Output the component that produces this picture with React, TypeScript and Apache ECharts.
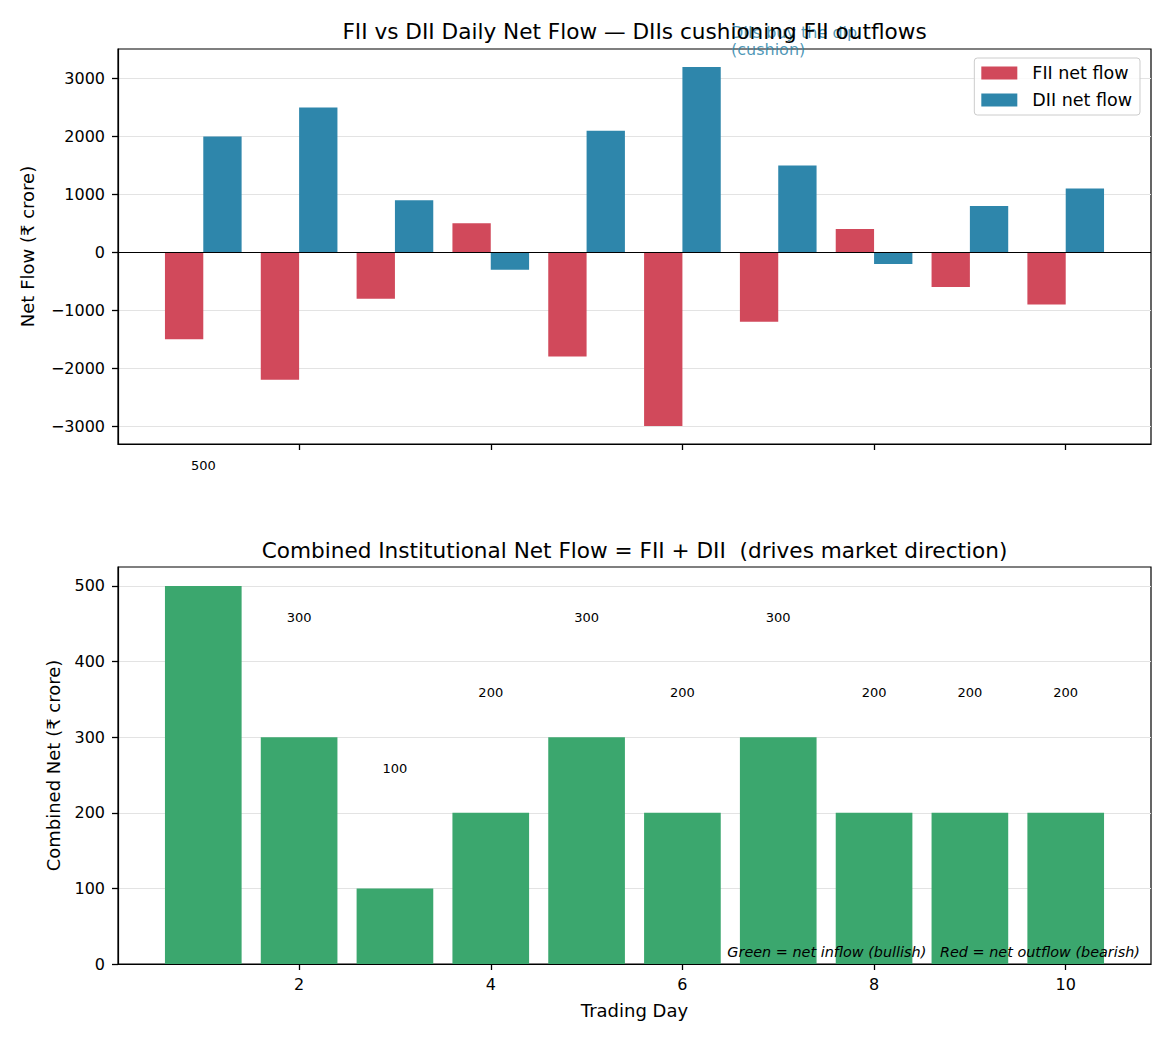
import React, { useEffect, useRef } from "react";
import * as echarts from "echarts";

const days = [1, 2, 3, 4, 5, 6, 7, 8, 9, 10];
const fiiFlow = [-1500, -2200, -800, 500, -1800, -3000, -1200, 400, -600, -900];
const diiFlow = [2000, 2500, 900, -300, 2100, 3200, 1500, -200, 800, 1100];
const combinedFlow = [500, 300, 100, 200, 300, 200, 300, 200, 200, 200];
const xTicks = [2, 4, 6, 8, 10];
const topYTicks = [-3000, -2000, -1000, 0, 1000, 2000, 3000];
const bottomYTicks = [0, 100, 200, 300, 400, 500];

const RED = "#D1495B";
const BLUE = "#2E86AB";
const GREEN = "#3BA76E";
const FONT = "DejaVu Sans";

const fmt = (v: number) => String(v).replace("-", "\u2212");

function barRenderer(offset: number, width: number, colorFn: (v: number) => string) {
  return (params: any, api: any) => {
    const x = api.value(0);
    const y = api.value(1);
    const p0 = api.coord([x + offset - width / 2, y]);
    const p1 = api.coord([x + offset + width / 2, 0]);
    return {
      type: "rect",
      shape: {
        x: p0[0],
        y: Math.min(p0[1], p1[1]),
        width: p1[0] - p0[0],
        height: Math.abs(p1[1] - p0[1]),
      },
      style: { fill: colorFn(y) },
    };
  };
}

export default function App() {
  const ref = useRef<HTMLDivElement>(null);
  useEffect(() => {
    document.body.style.margin = "0";
    if (!ref.current) return;
    const chart = echarts.init(ref.current, null, { renderer: "svg" });

    const commonX = {
      type: "value",
      min: 0.11,
      max: 10.89,
      axisLine: { show: true, onZero: false, lineStyle: { color: "#000", width: 1.2 } },
      axisTick: { show: true, length: 6, lineStyle: { color: "#000", width: 1.3 }, customValues: xTicks },
      splitLine: { show: false },
    };

    const option: any = {
      animation: false,
      textStyle: { fontFamily: FONT },
      grid: [
        { left: 118, width: 1033, top: 49, height: 395, show: true, borderColor: "#000", borderWidth: 1.2, backgroundColor: "transparent" },
        { left: 118, width: 1033, top: 567, height: 397, show: true, borderColor: "#000", borderWidth: 1.2, backgroundColor: "transparent" },
      ],
      xAxis: [
        { ...commonX, gridIndex: 0, axisLabel: { show: false, customValues: xTicks } },
        {
          ...commonX,
          gridIndex: 1,
          axisLabel: { show: true, customValues: xTicks, color: "#000", fontSize: 16, fontFamily: FONT, margin: 12 },
          name: "Trading Day",
          nameLocation: "middle",
          nameGap: 37,
          nameTextStyle: { color: "#000", fontSize: 18, fontFamily: FONT },
        },
      ],
      yAxis: [
        {
          type: "value",
          gridIndex: 0,
          min: -3310,
          max: 3510,
          axisLine: { show: true, onZero: false, lineStyle: { color: "#000", width: 1.2 } },
          axisTick: { show: true, length: 6, lineStyle: { color: "#000", width: 1.3 }, customValues: topYTicks },
          axisLabel: { customValues: topYTicks, formatter: fmt, color: "#000", fontSize: 16, fontFamily: FONT, margin: 13 },
          splitLine: { show: true, lineStyle: { color: "#e3e3e3", width: 1 } },
          name: "Net Flow (\u20b9 crore)",
          nameLocation: "middle",
          nameGap: 82,
          nameTextStyle: { color: "#000", fontSize: 18, fontFamily: FONT },
        },
        {
          type: "value",
          gridIndex: 1,
          min: 0,
          max: 525,
          axisLine: { show: true, onZero: false, lineStyle: { color: "#000", width: 1.2 } },
          axisTick: { show: true, length: 6, lineStyle: { color: "#000", width: 1.3 }, customValues: bottomYTicks },
          axisLabel: { customValues: bottomYTicks, formatter: fmt, color: "#000", fontSize: 16, fontFamily: FONT, margin: 13 },
          splitLine: { show: true, lineStyle: { color: "#e3e3e3", width: 1 } },
          name: "Combined Net (\u20b9 crore)",
          nameLocation: "middle",
          nameGap: 56,
          nameTextStyle: { color: "#000", fontSize: 18, fontFamily: FONT },
        },
      ],
      legend: {
        data: ["FII net flow", "DII net flow"],
        orient: "vertical",
        right: 30,
        top: 58,
        padding: [6, 8, 6, 7],
        backgroundColor: "rgba(255,255,255,0.8)",
        borderColor: "#cccccc",
        borderWidth: 1,
        borderRadius: 3,
        itemWidth: 36,
        itemHeight: 13,
        itemGap: 9,
        icon: "rect",
        textStyle: { color: "#000", fontSize: 17.5, fontFamily: FONT, padding: [0, 0, 0, 10] },
      },
      series: [
        {
          name: "FII net flow",
          type: "custom",
          xAxisIndex: 0,
          yAxisIndex: 0,
          itemStyle: { color: RED },
          encode: { x: 0, y: 1 },
          data: days.map((d, i) => [d, fiiFlow[i]]),
          renderItem: barRenderer(-0.2, 0.4, () => RED),
          markLine: {
            silent: true,
            symbol: ["none", "none"],
            label: { show: false },
            lineStyle: { color: "#000", width: 1.2, type: "solid" },
            data: [{ yAxis: 0 }],
          },
          z: 2,
        },
        {
          name: "DII net flow",
          type: "custom",
          xAxisIndex: 0,
          yAxisIndex: 0,
          itemStyle: { color: BLUE },
          encode: { x: 0, y: 1 },
          data: days.map((d, i) => [d, diiFlow[i]]),
          renderItem: barRenderer(0.2, 0.4, () => BLUE),
          z: 2,
        },
        {
          name: "Combined",
          type: "custom",
          xAxisIndex: 1,
          yAxisIndex: 1,
          encode: { x: 0, y: 1 },
          data: days.map((d, i) => [d, combinedFlow[i]]),
          renderItem: barRenderer(0, 0.8, (v) => (v >= 0 ? GREEN : RED)),
          z: 2,
        },
        {
          name: "Combined labels",
          type: "custom",
          xAxisIndex: 1,
          yAxisIndex: 1,
          clip: false,
          encode: { x: 0, y: 1 },
          data: days.map((d, i) => [d, combinedFlow[i]]),
          renderItem: (params: any, api: any) => {
            const x = api.value(0);
            const v = api.value(1);
            const p = api.coord([x, v + 150]);
            return {
              type: "text",
              x: p[0],
              y: p[1],
              style: {
                text: String(v),
                fill: "#000",
                fontSize: 13,
                fontFamily: FONT,
                align: "center",
                verticalAlign: "bottom",
              },
            };
          },
          z: 5,
        },
      ],
      graphic: [
        {
          type: "text",
          left: 731,
          top: 24,
          z: 1,
          style: {
            text: "DIIs buy the dip\n(cushion)",
            fill: BLUE,
            opacity: 0.85,
            fontSize: 16,
            lineHeight: 17,
            fontFamily: FONT,
          },
        },
        {
          type: "text",
          x: 634.5,
          y: 31,
          z: 10,
          style: {
            text: "FII vs DII Daily Net Flow \u2014 DIIs cushioning FII outflows",
            fill: "#000",
            fontSize: 21.6,
            fontFamily: FONT,
            align: "center",
            verticalAlign: "middle",
          },
        },
        {
          type: "text",
          x: 634.5,
          y: 550,
          z: 10,
          style: {
            text: "Combined Institutional Net Flow = FII + DII  (drives market direction)",
            fill: "#000",
            fontSize: 21.6,
            fontFamily: FONT,
            align: "center",
            verticalAlign: "middle",
          },
        },
        {
          type: "text",
          x: 1140,
          y: 952,
          z: 10,
          style: {
            text: "Green = net inflow (bullish)   Red = net outflow (bearish)",
            fill: "#000",
            fontSize: 14.4,
            fontStyle: "italic",
            fontFamily: FONT,
            align: "right",
            verticalAlign: "middle",
          },
        },
      ],
    };

    chart.setOption(option);
    return () => chart.dispose();
  }, []);

  return <div ref={ref} style={{ width: 1170, height: 1040 }} />;
}
